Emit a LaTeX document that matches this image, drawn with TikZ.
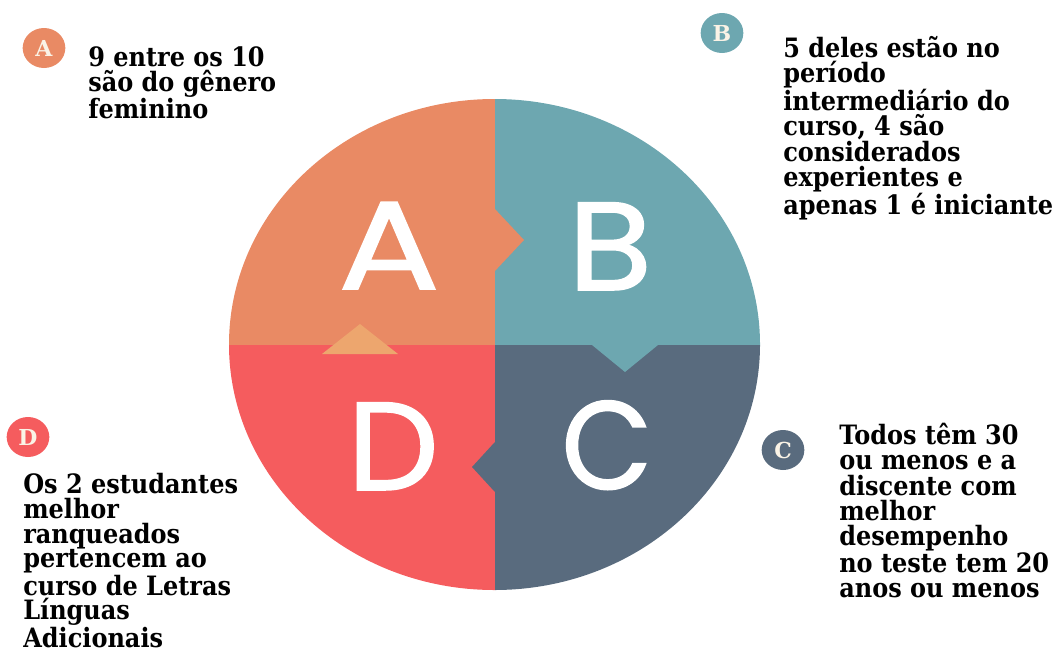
\documentclass[tikz,border=0pt]{standalone}
\usepackage{fontspec}
\setmainfont{DejaVu Serif}[FakeStretch=0.9]
\newfontfamily\bigfont{Poppins}[FakeBold=1.2]
\newfontfamily\badgefont{DejaVu Serif Bold}
\definecolor{cA}{HTML}{E98A64}
\definecolor{cB}{HTML}{6DA7B0}
\definecolor{cC}{HTML}{596B7E}
\definecolor{cD}{HTML}{F55C5E}
\definecolor{cT}{HTML}{EDA66E}
\definecolor{cream}{HTML}{FAF3E6}
\usetikzlibrary{shapes.geometric}
\tikzset{
  txt/.style={anchor=north west, inner sep=0pt, align=left, text=black,
    font=\bfseries\fontsize{20}{18.9}\selectfont},
  badge/.style={ellipse, minimum width=32pt, minimum height=30pt, inner sep=0pt, text=cream,
    font=\badgefont\fontsize{16.5}{16.5}\selectfont},
  bigletter/.style={anchor=base, inner sep=0pt, text=white, font=\bigfont\fontsize{94}{94}\selectfont}
}
\begin{document}
\begin{tikzpicture}[x=0.75pt,y=-0.75pt]
\useasboundingbox (0,0) rectangle (1062,653);
\begin{scope}
\clip (494.5,344.5) ellipse [x radius=265.5, y radius=245.5];
\fill[cA] (200,80) rectangle (494.5,345);
\fill[cB] (494.5,80) rectangle (780,345);
\fill[cC] (494.5,345) rectangle (780,610);
\fill[cD] (200,345) rectangle (494.5,610);
\end{scope}
\fill[cA] (490,204) -- (494,208) -- (524,240) -- (494,272) -- (490,276) -- cycle;
\fill[cB] (588,341) -- (592,345) -- (625,372) -- (658,345) -- (662,341) -- cycle;
\fill[cC] (498,439) -- (494,443) -- (472,467) -- (494,491) -- (498,495) -- cycle;
\fill[cT] (322,354) -- (360,324) -- (398,354) -- cycle;

\node[bigletter] (LA) at (389,289) {\scalebox{1.20}[1]{A}};
\node[bigletter] (LB) at (610,290) {\scalebox{1.10}[1]{B}};
\node[bigletter] (LC) at (607,489) {\scalebox{0.94}[1]{C}};
\node[bigletter] (LD) at (393,490) {\scalebox{1.03}[1]{D}};

\node[badge, fill=cA] (bA) at (44,48) {A};
\node[badge, fill=cB] (bB) at (722,33) {B};
\node[badge, fill=cC] (bC) at (783,450) {C};
\node[badge, fill=cD] (bD) at (28,437) {D};

\node[txt] (tA) at (88,46) {9 entre os 10\\são do gênero\\feminino};
\node[txt] (tB) at (783,36) {5 deles estão no\\período\\intermediário do\\curso, 4 são\\considerados\\experientes e\\apenas 1 é iniciante};
\node[txt] (tC) at (839,423) {Todos têm 30\\ou menos e a\\discente com\\melhor\\desempenho\\no teste tem 20\\anos ou menos};
\node[txt, font=\bfseries\fontsize{20}{18.6}\selectfont] (tD) at (23,473) {Os 2 estudantes\\melhor\\ranqueados\\pertencem ao\\curso de Letras\\Línguas\\Adicionais};
\end{tikzpicture}
\end{document}
